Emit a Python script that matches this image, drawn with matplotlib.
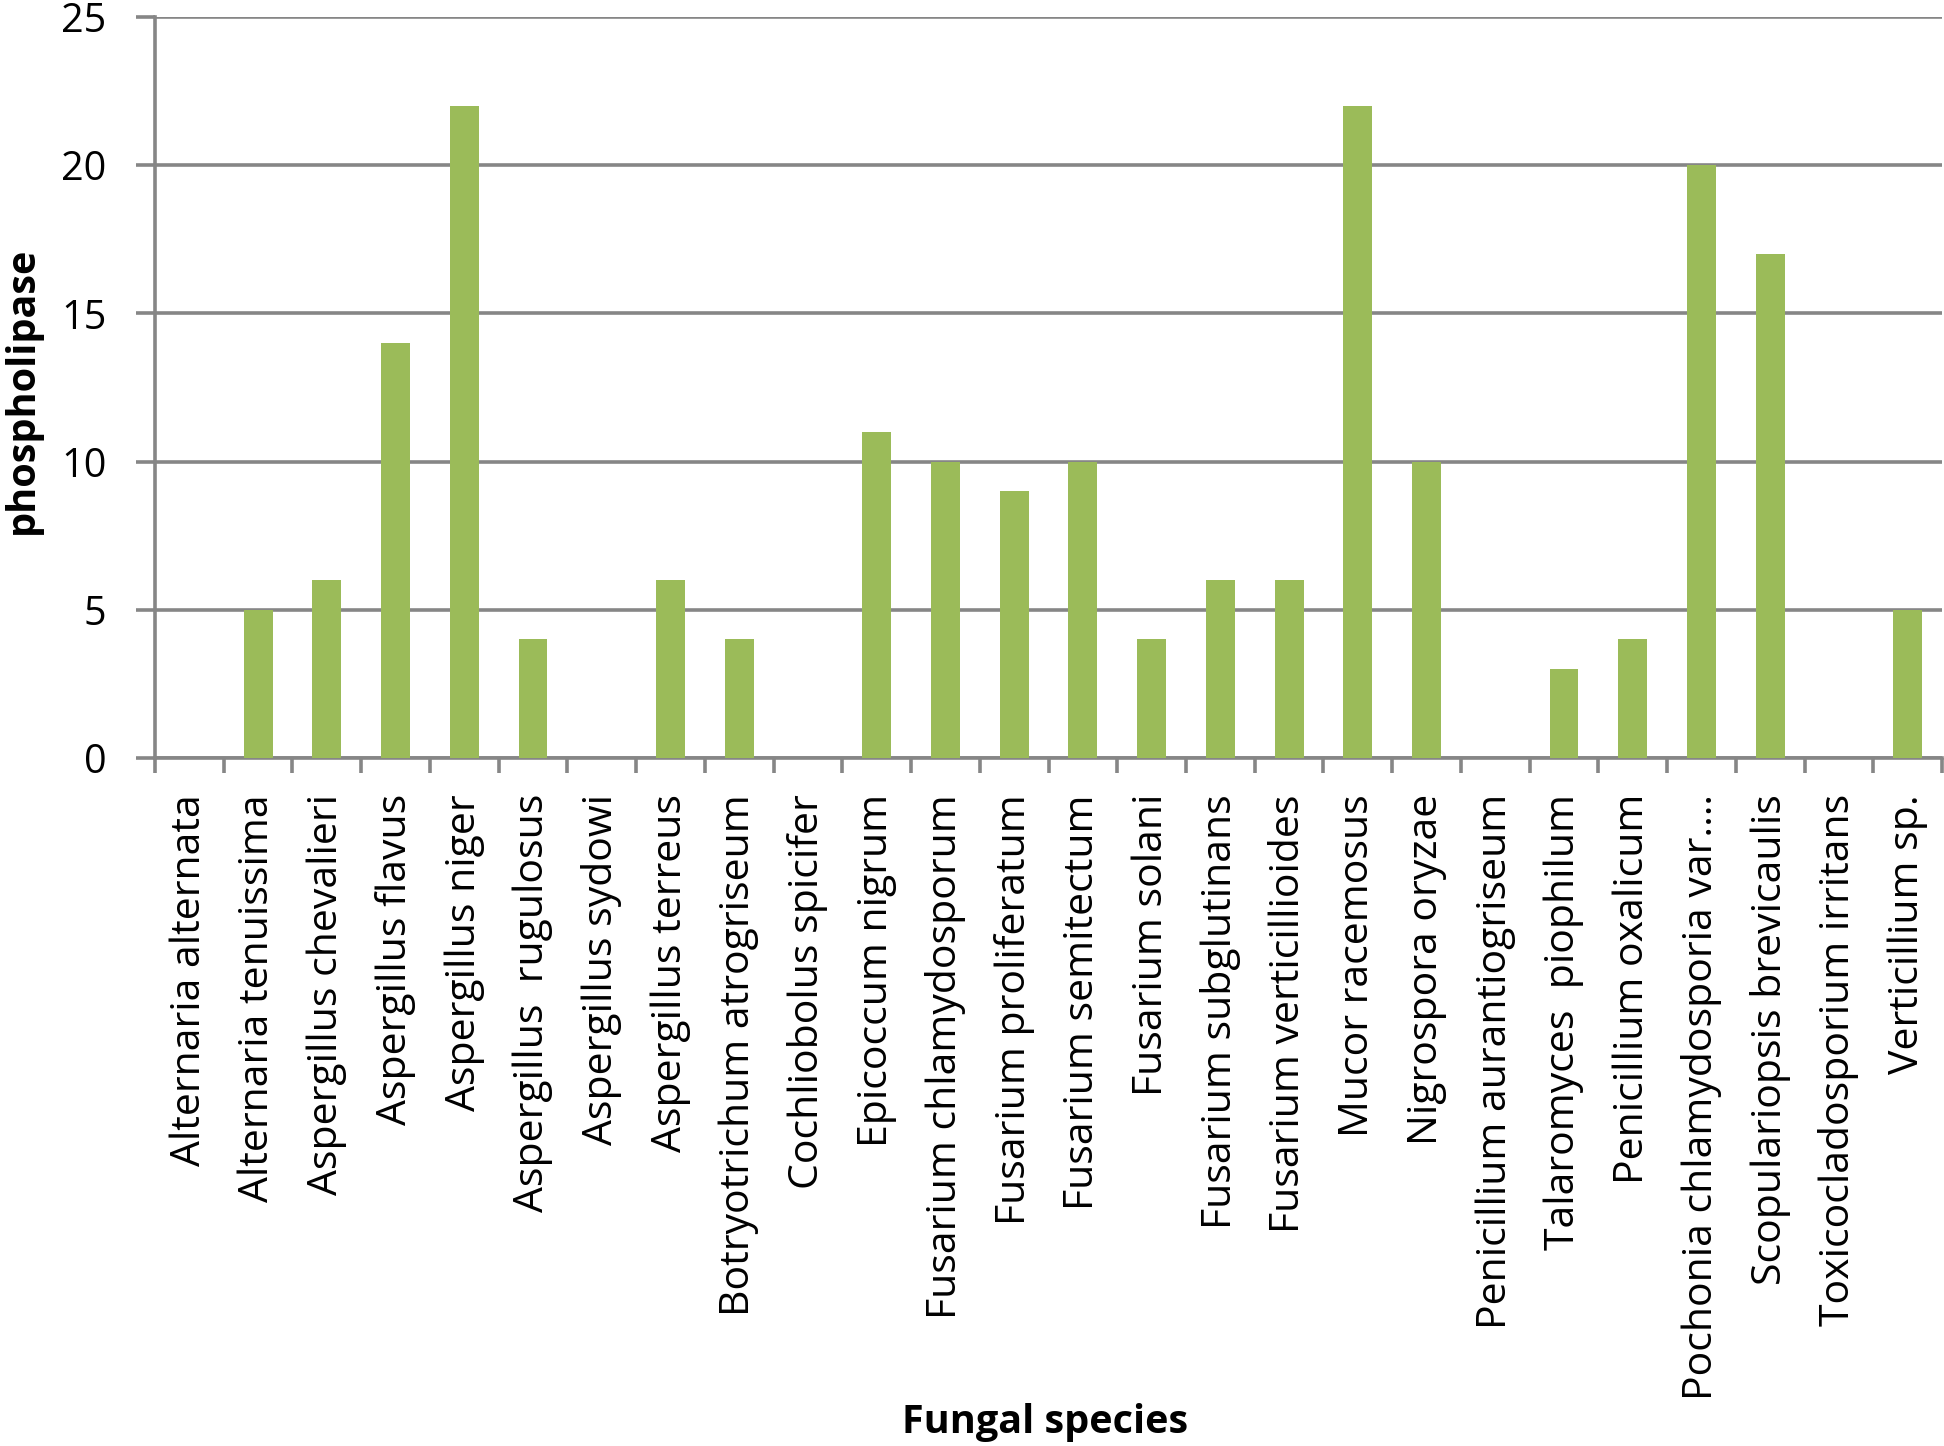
import matplotlib
matplotlib.use("Agg")
import matplotlib.pyplot as plt

categories = [
    "Alternaria alternata", "Alternaria tenuissima", "Aspergillus chevalieri",
    "Aspergillus flavus", "Aspergillus niger", "Aspergillus  rugulosus",
    "Aspergillus sydowi", "Aspergillus terreus", "Botryotrichum atrogriseum",
    "Cochliobolus spicifer", "Epicoccum nigrum", "Fusarium chlamydosporum",
    "Fusarium proliferatum", "Fusarium semitectum", "Fusarium solani",
    "Fusarium subglutinans", "Fusarium verticillioides", "Mucor racemosus",
    "Nigrospora oryzae", "Penicillium aurantiogriseum", "Talaromyces  piophilum",
    "Penicillium oxalicum", "Pochonia chlamydosporia var.\u2026",
    "Scopulariopsis brevicaulis", "Toxicocladosporium irritans", "Verticillium sp.",
]
values = [0, 5, 6, 14, 22, 4, 0, 6, 4, 0, 11, 10, 9, 10, 4, 6, 6, 22, 10, 0, 3, 4, 20, 17, 0, 5]
y_ticks = [0, 5, 10, 15, 20, 25]

plt.rcParams['font.family'] = ['Open Sans', 'DejaVu Sans']

fig = plt.figure(figsize=(19.44, 14.46), dpi=100)
ax = fig.add_axes([155/1944, 1 - 758/1446, 1 - 155/1944 - 0.001, (758 - 17)/1446])

grid_c = '#868686'
x = list(range(len(categories)))
ax.bar(x, values, width=0.42, color='#9BBB59', zorder=3)

ax.set_xlim(-0.5, len(categories) - 0.5)
ax.set_ylim(0, 25)
ax.set_yticks(y_ticks)
ax.yaxis.grid(True, color=grid_c, linewidth=2.6, zorder=1)
ax.set_axisbelow(True)

ax.set_xticks([i - 0.5 for i in range(len(categories) + 1)], minor=False)
ax.set_xticklabels([])
ax.set_xticks(x, minor=True)
ax.set_xticklabels(categories, minor=True, rotation=90, ha='center', va='top', fontsize=29.5)
ax.tick_params(axis='x', which='major', direction='out', length=11, width=2.6, color=grid_c)
ax.tick_params(axis='x', which='minor', length=0, pad=26)
ax.tick_params(axis='y', direction='out', length=14, width=2.6, color=grid_c, labelsize=28.5, pad=21)

for s in ['top', 'right']:
    ax.spines[s].set_visible(False)
for s in ['left', 'bottom']:
    ax.spines[s].set_color(grid_c)
    ax.spines[s].set_linewidth(2.6)

fig.text(22/1944, 1 - 390/1446, 'phospholipase', fontsize=28.5, fontweight='bold',
         rotation=90, ha='center', va='center')
fig.text(1045/1944, 1 - 1422/1446, 'Fungal species', fontsize=28.5, fontweight='bold',
         ha='center', va='center')

fig.savefig('out.png', dpi=100)
